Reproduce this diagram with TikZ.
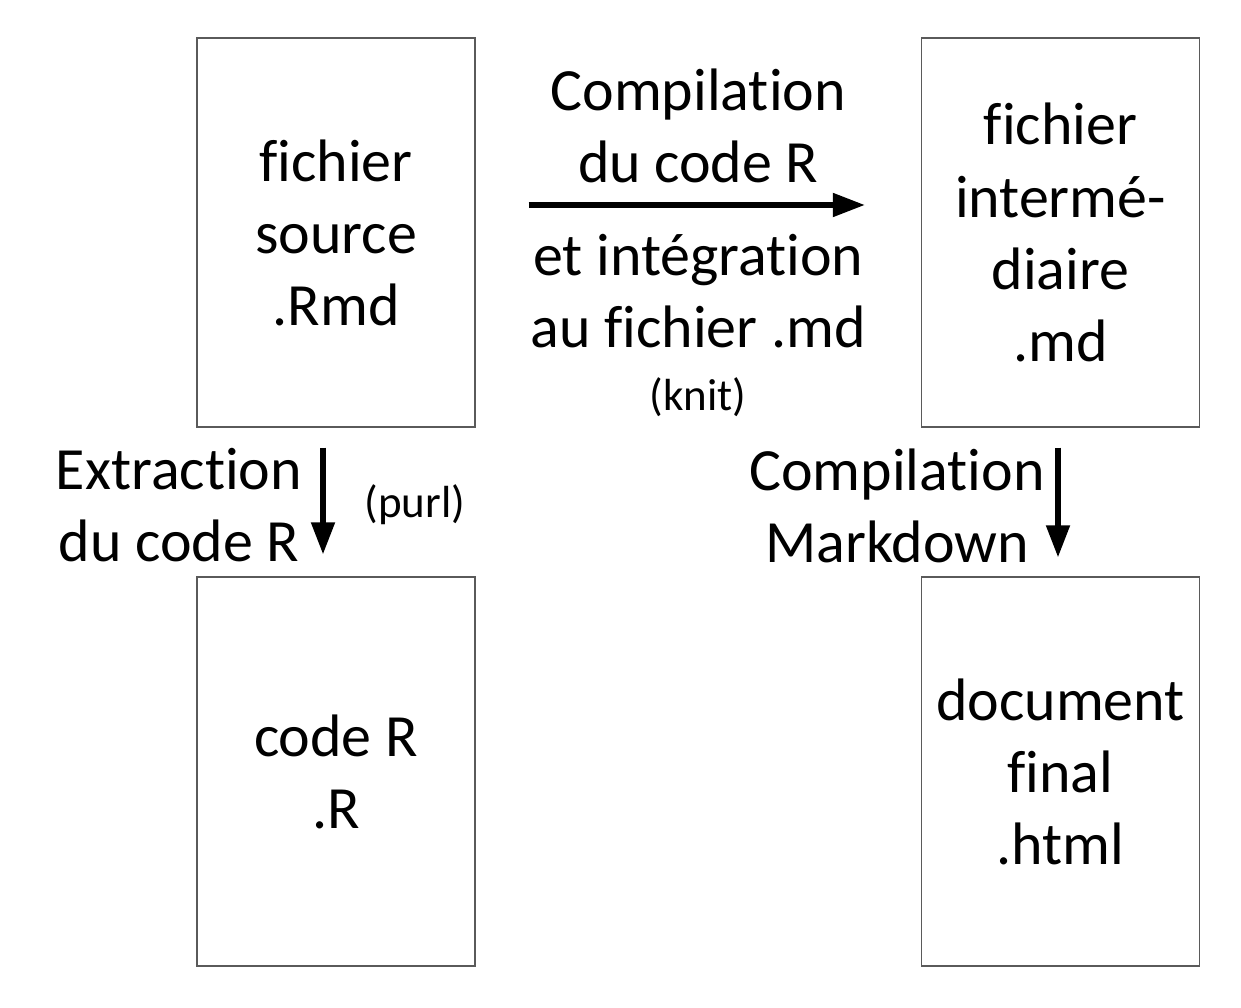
\documentclass[tikz,border=0pt]{standalone}
\usepackage{fontspec}
\setmainfont{Carlito}[Ligatures=NoCommon]
\usetikzlibrary{arrows.meta, positioning, calc}
\definecolor{boxline}{RGB}{90, 90, 90}

\begin{document}
\begin{tikzpicture}[
            doc/.style={rectangle, draw=boxline, line width=0.8pt, fill=white, minimum width=5.56cm, minimum height=7.78cm, align=center, font=\fontsize{34.1}{41}\selectfont},
            step label/.style={align=center, font=\fontsize{34.1}{41}\selectfont},
            tool label/.style={font=\fontsize{25.6}{31}\selectfont},
            flow/.style={line width=2.9pt, -{Triangle[length=0.64cm, width=0.46cm]}}
        ]
            \useasboundingbox (0,0) rectangle (24.82,20.14);

            % SOURCE
            \node[doc] (source) at (6.72,15.49) {fichier\\source\\.Rmd};

            % INTERMEDIATE
            \node[doc] (inter) at (21.21,15.49) {fichier\\intermé-\\diaire\\.md};

            % CODE R
            \node[doc] (coder) at (6.72,4.71) {code R\\.R};

            % FINAL
            \node[doc] (final) at (21.21,4.71) {document\\final\\.html};

            % Steps
            \draw[flow, shorten <=1.06cm, shorten >=1.12cm] ([yshift=0.55cm]source.east) -- ([yshift=0.55cm]inter.west)
                node[step label, midway, yshift=1.59cm] {Compilation\\du code R}
                node[step label, midway, yshift=-1.72cm] {et intégration\\au fichier .md}
                node[tool label, midway, yshift=-3.84cm] {(knit)};
            \draw[flow, shorten <=0.4cm, shorten >=0.44cm] ([xshift=-0.26cm]source.south) -- ([xshift=-0.26cm]coder.north)
                node[step label, midway, xshift=-2.88cm, yshift=-0.07cm] {Extraction\\du code R}
                node[tool label, midway, xshift=1.84cm, yshift=-0.06cm] {(purl)};
            \draw[flow, shorten <=0.4cm, shorten >=0.38cm] ([xshift=-0.05cm]inter.south) -- ([xshift=-0.05cm]final.north)
                node[step label, midway, xshift=-3.22cm, yshift=-0.07cm] {Compilation\\Markdown};
        \end{tikzpicture}
\end{document}
